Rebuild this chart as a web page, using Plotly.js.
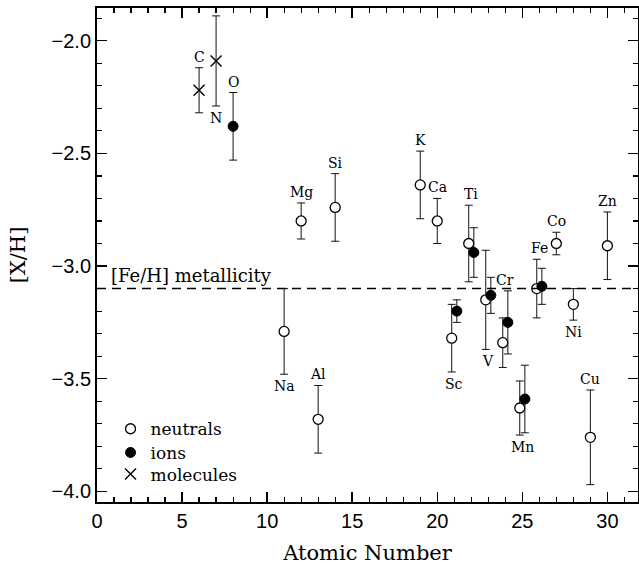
<!DOCTYPE html>
<html>
<head>
<meta charset="utf-8">
<script src="https://cdn.plot.ly/plotly-3.0.1.min.js"></script>
<style>html,body{margin:0;padding:0;background:#fff;}</style>
</head>
<body>
<div id="chart" style="width:639px;height:565px;"></div>
<script>
// ---- data ----
const neutralEl  = ['Na','Mg','Al','Si','K','Ca','Sc','Ti','V','Cr','Mn','Fe','Co','Ni','Cu','Zn'];
const neutralZ   = [11,12,13,14,19,20,21,22,23,24,25,26,27,28,29,30];
const neutralXH  = [-3.29,-2.80,-3.68,-2.74,-2.64,-2.80,-3.32,-2.90,-3.15,-3.34,-3.63,-3.10,-2.90,-3.17,-3.76,-2.91];
const neutralErr = [0.19,0.08,0.15,0.15,0.15,0.10,0.15,0.17,0.22,0.11,0.12,0.13,0.05,0.07,0.21,0.15];

const ionEl  = ['O','Sc','Ti','V','Cr','Mn','Fe'];
const ionZ   = [8,21,22,23,24,25,26];
const ionXH  = [-2.38,-3.20,-2.94,-3.13,-3.25,-3.59,-3.09];
const ionErr = [0.15,0.05,0.11,0.08,0.14,0.15,0.08];

const molEl  = ['C','N'];
const molZ   = [6,7];
const molXH  = [-2.22,-2.09];
const molErr = [0.10,0.20];

const FE_H = -3.10;

// labels: element, which species it belongs to, side
const labelEl   = ['C','N','O','Na','Mg','Al','Si','K','Ca','Sc','Ti','V','Cr','Mn','Fe','Co','Ni','Cu','Zn'];
const labelKind = ['mol','mol','ion','neu','neu','neu','neu','neu','neu','neu','neu','neu','ion','neu','neu','neu','neu','neu','neu'];
const labelSide = ['above','below','above','below','above','above','above','above','above','below','above','below','above','below','above','above','below','above','above'];

// ---- build ----
const PAIR_SHIFT = 0.15;
const neutralX = neutralZ.map((z,i)=> ionEl.includes(neutralEl[i]) ? z-PAIR_SHIFT : z);
const ionX = ionZ.map((z,i)=> neutralEl.includes(ionEl[i]) ? z+PAIR_SHIFT : z);

const errStyle = {type:'data', visible:true, color:'#111', thickness:1, width:4};

const traces = [
  {type:'scatter', mode:'markers', name:'neutrals', legend:'legend', x:neutralX, y:neutralXH,
   error_y:Object.assign({array:neutralErr}, errStyle),
   marker:{symbol:'circle', size:10, color:'#fff', line:{color:'#000', width:1.3}}},
  {type:'scatter', mode:'markers', name:'ions', legend:'legend2', x:ionX, y:ionXH,
   error_y:Object.assign({array:ionErr}, errStyle),
   marker:{symbol:'circle', size:10, color:'#000', line:{color:'#000', width:1}}},
  {type:'scatter', mode:'markers', name:'molecules', legend:'legend3', x:molZ, y:molXH,
   error_y:Object.assign({array:molErr}, errStyle),
   marker:{symbol:'x-thin-open', size:11, color:'#000', line:{color:'#000', width:1.4}}}
];

const lookup = {
  neu:{el:neutralEl, z:neutralZ, v:neutralXH, e:neutralErr},
  ion:{el:ionEl, z:ionZ, v:ionXH, e:ionErr},
  mol:{el:molEl, z:molZ, v:molXH, e:molErr}
};
const serif = 'DejaVu Serif, Liberation Serif, serif';
const annotations = labelEl.map((el,i)=>{
  const d = lookup[labelKind[i]];
  const k = d.el.indexOf(el);
  const above = labelSide[i]==='above';
  return {
    xref:'x', yref:'y', x:d.z[k], y: above ? d.v[k]+d.e[k] : d.v[k]-d.e[k],
    text:el, showarrow:false, xanchor:'center',
    yanchor: above ? 'bottom' : 'top', yshift: above ? 1 : -2,
    font:{family:serif, size:14, color:'#000'}
  };
});
annotations.push({
  xref:'paper', yref:'y', x:0.022, y:FE_H, xanchor:'left', yanchor:'bottom', yshift:1,
  text:'[Fe/H] metallicity', showarrow:false, font:{family:serif, size:18, color:'#000'}
});

const axisCommon = {
  showgrid:false, zeroline:false, showline:true, linewidth:2, linecolor:'#000',
  mirror:'ticks', ticks:'inside', ticklen:10, tickwidth:1.5, tickcolor:'#000',
  tickfont:{family:'Liberation Sans, Arial, sans-serif', size:20, color:'#000'}
};

function legendAt(y){
  return {x:0.025, y:y, xanchor:'left', yanchor:'top', bgcolor:'rgba(0,0,0,0)',
          font:{family:serif, size:17, color:'#000'}, itemwidth:30};
}

const layout = {
  width:639, height:565,
  margin:{l:97, r:1, t:8, b:63},
  paper_bgcolor:'#fff', plot_bgcolor:'#fff',
  showlegend:true,
  legend:legendAt(0.1838),
  legend2:legendAt(0.1358),
  legend3:legendAt(0.0921),
  xaxis:Object.assign({}, axisCommon, {
    range:[0,31.8], tick0:0, dtick:5,
    minor:{dtick:1, ticks:'inside', ticklen:5, tickwidth:1.2, tickcolor:'#000', showgrid:false},
    title:{text:'Atomic Number', font:{family:serif, size:21, color:'#000'}, standoff:14}
  }),
  yaxis:Object.assign({}, axisCommon, {
    range:[-4.047,-1.855], tick0:0, dtick:0.5, tickformat:'.1f',
    minor:{dtick:0.1, ticks:'inside', ticklen:5, tickwidth:1.2, tickcolor:'#000', showgrid:false},
    title:{text:'[X/H]', font:{family:serif, size:21, color:'#000'}, standoff:20}
  }),
  shapes:[{type:'line', xref:'paper', yref:'y', x0:0, x1:1, y0:FE_H, y1:FE_H,
           line:{color:'#000', width:1.5, dash:'9px,6px'}}],
  annotations:annotations
};

Plotly.newPlot('chart', traces, layout, {displayModeBar:false, staticPlot:true});
</script>
</body>
</html>
